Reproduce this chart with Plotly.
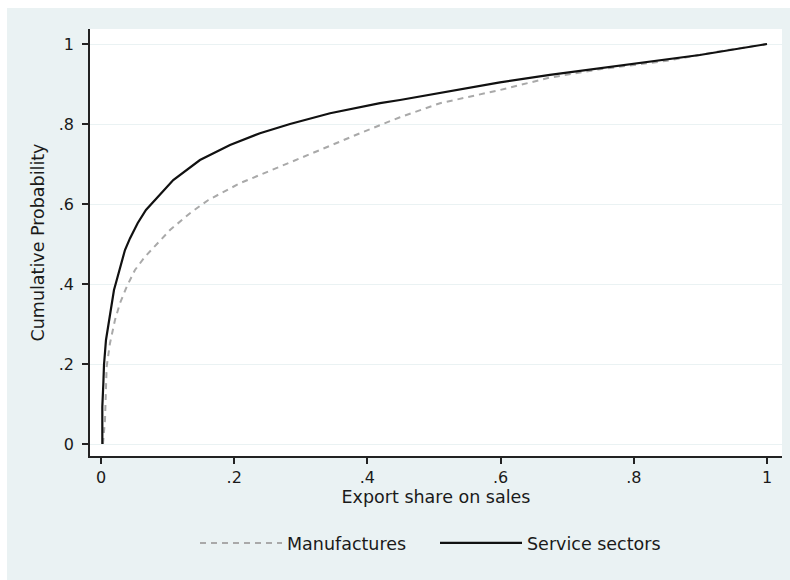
import plotly.graph_objects as go

# ---- data ----
service_x = [0.002, 0.002, 0.0035, 0.0045, 0.0075, 0.011, 0.0145, 0.0195, 0.022, 0.0285,
             0.036, 0.0435, 0.055, 0.0675, 0.081, 0.1085, 0.1486, 0.1937, 0.2387, 0.2838,
             0.344, 0.419, 0.449, 0.4985, 0.539, 0.599, 0.674, 0.749, 0.899, 1.0]
service_y = [0.0, 0.093, 0.15, 0.1975, 0.26, 0.30, 0.335, 0.385, 0.40, 0.443,
             0.485, 0.514, 0.552, 0.585, 0.61, 0.66, 0.71, 0.7475, 0.777, 0.80,
             0.827, 0.852, 0.86, 0.874, 0.887, 0.904, 0.923, 0.94, 0.9725, 1.0]

manuf_x = [0.003, 0.006, 0.0085, 0.0135, 0.021, 0.0285, 0.0386, 0.051, 0.066, 0.0836,
           0.1036, 0.1336, 0.1612, 0.2087, 0.2688, 0.3288, 0.3889, 0.449, 0.509, 0.554,
           0.599, 0.674, 0.749, 0.85, 0.93, 1.0]
manuf_y = [0.0, 0.06, 0.193, 0.252, 0.31, 0.352, 0.393, 0.435, 0.468, 0.50,
           0.535, 0.577, 0.61, 0.652, 0.693, 0.735, 0.777, 0.817, 0.852, 0.868,
           0.885, 0.916, 0.937, 0.958, 0.982, 1.0]

tick_vals = [0, 0.2, 0.4, 0.6, 0.8, 1]
tick_text = ["0", ".2", ".4", ".6", ".8", "1"]

BG = "#eaf2f3"
FONT = "DejaVu Sans"
TXT = "#1a1a1a"

fig = go.Figure()
fig.add_trace(go.Scatter(x=manuf_x, y=manuf_y, mode="lines", name="Manufactures",
                         line=dict(color="#a9a9a9", width=2, dash="6px,5px")))
fig.add_trace(go.Scatter(x=service_x, y=service_y, mode="lines", name="Service sectors",
                         line=dict(color="#111111", width=2.2)))

W, H = 790, 580
L, R, T, B = 90, 8, 29, 124
pw, ph = W - L - R, H - T - B


def px_x(p):
    return (p - L) / pw


def px_y(p):
    return (H - B - p) / ph


# thin white frame at top and left of the page
fig.add_shape(type="rect", xref="paper", yref="paper",
              x0=px_x(-5), x1=px_x(800), y0=px_y(8), y1=px_y(-5),
              fillcolor="white", line=dict(width=0), layer="below")
fig.add_shape(type="rect", xref="paper", yref="paper",
              x0=px_x(-5), x1=px_x(7), y0=px_y(590), y1=px_y(-5),
              fillcolor="white", line=dict(width=0), layer="below")

axis_common = dict(
    showline=True, linecolor="#222222", linewidth=1.5,
    ticks="outside", ticklen=6, tickwidth=1.5, tickcolor="#222222",
    tickvals=tick_vals, ticktext=tick_text,
    tickfont=dict(family=FONT, size=16, color=TXT),
    zeroline=False, mirror=False,
)

fig.update_layout(
    width=W, height=H,
    margin=dict(l=L, r=R, t=T, b=B),
    paper_bgcolor=BG, plot_bgcolor="white",
    font=dict(family=FONT, size=17, color=TXT),
    xaxis=dict(range=[-0.0165, 1.0225], showgrid=False,
               title=dict(text="Export share on sales", font=dict(family=FONT, size=17.5, color=TXT), standoff=4),
               **axis_common),
    yaxis=dict(range=[-0.03, 1.0375], showgrid=True, gridcolor=BG, gridwidth=1.2,
               title=dict(text="Cumulative Probability", font=dict(family=FONT, size=17.5, color=TXT), standoff=10),
               ticklabelstandoff=5,
               **axis_common),
    legend=dict(orientation="h", xanchor="left", yanchor="middle",
                x=px_x(195), y=px_y(543), bgcolor="rgba(0,0,0,0)",
                font=dict(family=FONT, size=17.5, color=TXT), itemwidth=82,
                entrywidth=143, tracegroupgap=0),
    showlegend=True,
)

fig.write_html("out.html")
